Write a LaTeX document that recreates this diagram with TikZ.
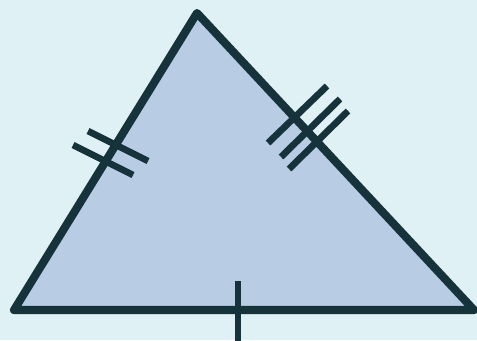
\documentclass[tikz,border=0pt]{standalone}
\usepackage{xcolor}
\definecolor{bgblue}{HTML}{DFF1F5}
\definecolor{triblue}{HTML}{B8CCE4}
\definecolor{inkdark}{HTML}{16323A}

\begin{document}
\begin{tikzpicture}[x=0.01cm, y=-0.01cm,
  side/.style={draw=inkdark, line width=2.3pt, line join=round, fill=triblue},
  tick/.style={draw=inkdark, line width=1.9pt}]
%%%%%%%%%%%%%%%%%%%
\fill[bgblue] (0,0) rectangle (477,340);
\useasboundingbox (0,0) rectangle (477,340);

\coordinate (A) at (14,310);
\coordinate (B) at (197,13);
\coordinate (C) at (474,310);
\path[side] (A) -- (B) -- (C) -- cycle;

%%%%%%%%%%%%%%%%%%%
\draw[tick] (238,281) -- (238,345);

\draw[tick] (88,131) -- (148,161);
\draw[tick] (73,145) -- (133,175);

\draw[tick] (268,143) -- (327,86);
\draw[tick] (281,157) -- (340,99);
\draw[tick] (289,169) -- (348,111);
\end{tikzpicture}
\end{document}
